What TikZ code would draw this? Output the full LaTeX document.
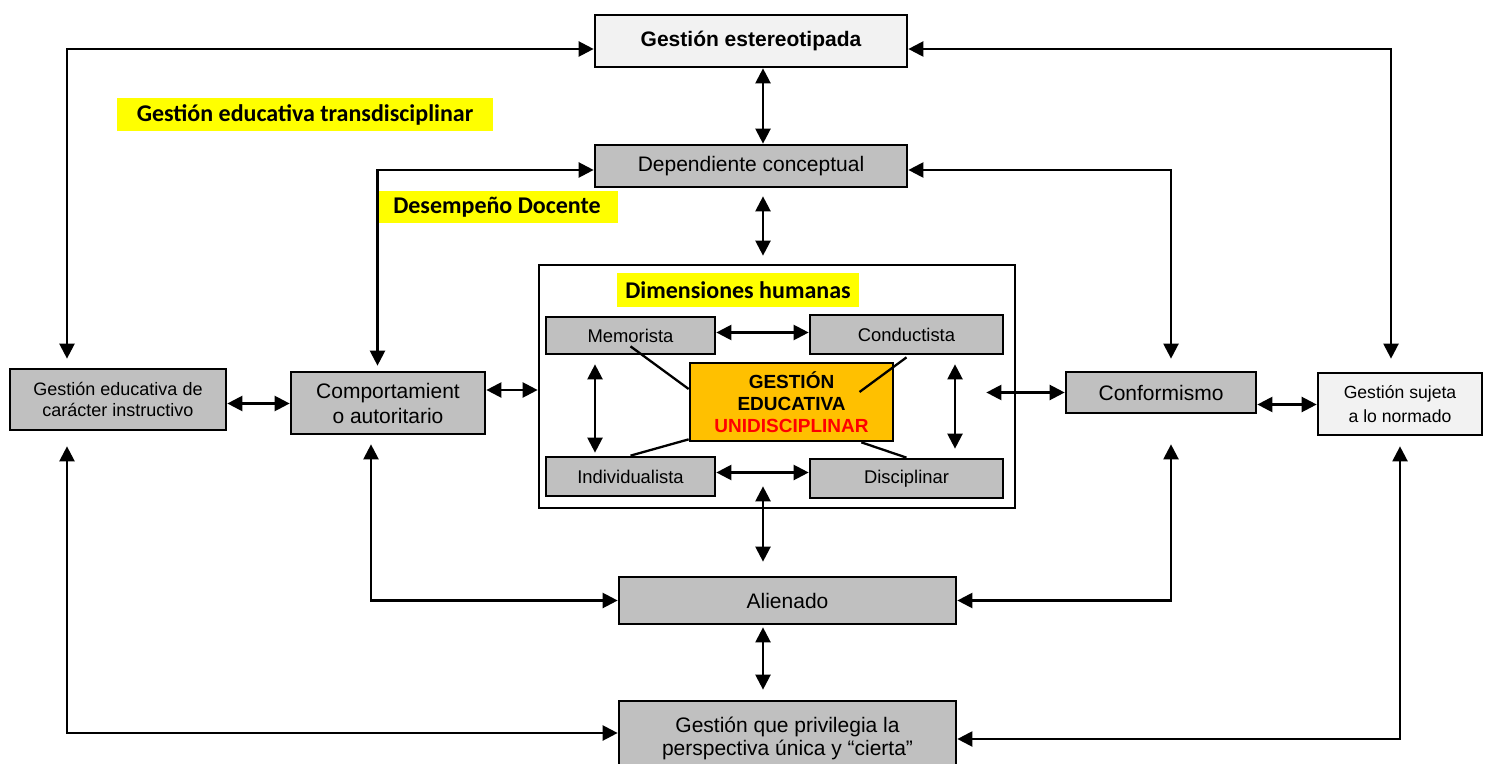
\documentclass[tikz,border=0pt]{standalone}
\usepackage{fontspec}
\setmainfont{Liberation Sans}
\newfontfamily\calibri{Carlito}
\usepackage{tikz}
\usetikzlibrary{arrows.meta,positioning}
\definecolor{grisbox}{HTML}{C0C0C0}
\definecolor{grisclaro}{HTML}{F2F2F2}
\definecolor{naranja}{HTML}{FFC000}
\definecolor{amarillo}{HTML}{FFFF00}
\definecolor{rojo}{HTML}{FF0000}
\tikzset{
  caja/.style={draw,line width=1.35pt,fill=grisbox,align=center,inner sep=0pt,
    font=\fontsize{10.5}{12.5}\selectfont},
  clara/.style={caja,fill=grisclaro},
  chica/.style={caja,font=\fontsize{9.2}{11}\selectfont},
  etiqueta/.style={fill=amarillo,inner sep=0pt,font=\calibri\bfseries\fontsize{12}{14}\selectfont},
  flecha/.style={<->,line width=1.15pt},
  linea/.style={line width=1.15pt},
}

\begin{document}
\begin{tikzpicture}
[x=0.5pt,y=-0.5pt,>={Triangle[length=7.5pt,width=7.5pt]}]
\useasboundingbox (0,0) rectangle (1486,764);
\clip (0,0) rectangle (1486,764);
  % columna central
  \node[clara,minimum width=156pt,minimum height=26pt,font=\bfseries\fontsize{10.5}{12.5}\selectfont] (estereo) at (751,41) {Gestión estereotipada};
  \node[caja,minimum width=156pt,minimum height=21pt] (depend) at (751,166) {Dependiente conceptual};
  \node[caja,minimum width=168.5pt,minimum height=23.5pt] (alien) at (787.5,600.5) {Alienado};
  \node[caja,minimum width=168.5pt,minimum height=37pt,font=\fontsize{10.5}{11.5}\selectfont] (privil) at (787.5,738) {Gestión que privilegia la\\perspectiva única y “cierta”};
%
  \node[etiqueta,minimum width=188pt,minimum height=16.5pt] (transd) at (305,114.5) {Gestión educativa transdisciplinar};
  \node[etiqueta,minimum width=121pt,minimum height=16pt] (desemp) at (497,207) {Desempeño Docente};
%
  % dimensiones humanas
  \node[draw,line width=1.35pt,minimum width=238pt,minimum height=121.5pt,inner sep=0pt] (dim) at (777,386.5) {};
  \node[etiqueta,minimum width=121pt,minimum height=17pt] (dimlab) at (738,290) {Dimensiones humanas};
  \node[chica,minimum width=84.5pt,minimum height=18.5pt] (memo) at (630.5,335.5) {Memorista};
  \node[chica,minimum width=96.5pt,minimum height=19.5pt] (cond) at (906.5,334.5) {Conductista};
  \node[chica,minimum width=84.5pt,minimum height=19.5pt] (indiv) at (630.5,476.5) {Individualista};
  \node[chica,minimum width=96.5pt,minimum height=19.5pt] (disc) at (906.5,478.5) {Disciplinar};
  \node[caja,fill=naranja,minimum width=101.5pt,minimum height=39pt,font=\bfseries\fontsize{9.5}{11}\selectfont] (centro) at (791.5,402) {GESTIÓN\\EDUCATIVA\\\textcolor{rojo}{UNIDISCIPLINAR}};
%
  % fila media
  \node[caja,minimum width=108pt,minimum height=30.5pt,font=\fontsize{9}{10.5}\selectfont] (instr) at (118,399.5) {Gestión educativa de\\carácter instructivo};
  \node[caja,minimum width=97pt,minimum height=31pt,font=\fontsize{10.5}{12.5}\selectfont] (comp) at (388,403) {Comportamient\\o autoritario};
  \node[caja,minimum width=95pt,minimum height=20.5pt] (conf) at (1161,392.5) {Conformismo};
  \node[clara,minimum width=82pt,minimum height=31pt,font=\fontsize{8.8}{12}\selectfont] (norma) at (1400,404) {Gestión sujeta\\a lo normado};
%
  \draw[flecha] ([xshift=6pt]estereo.south) -- ([xshift=6pt]depend.north);
  \draw[flecha] ([xshift=6pt,yshift=-4pt]depend.south) -- ([xshift=-7pt,yshift=4pt]dim.north);
  \draw[flecha] ([xshift=-7pt,yshift=11.5pt]dim.south) -- ([xshift=-12.25pt,yshift=7pt]alien.north);
  \draw[flecha] ([xshift=-12.25pt,yshift=-1pt]alien.south) -- ([xshift=-12.25pt,yshift=5pt]privil.north);
%
  \draw[flecha] ([xshift=-25.5pt,yshift=4.5pt]instr.north) |- ([yshift=-4pt]estereo.west);
  \draw[flecha] ([xshift=-4.5pt,yshift=6.5pt]norma.north) |- ([yshift=-4pt]estereo.east);
  \draw[flecha] ([xshift=-5.25pt,yshift=2.5pt]comp.north) |- ([yshift=-2pt]depend.west);
  \draw[flecha] ([yshift=-2pt]depend.east) -| ([xshift=5pt,yshift=6pt]conf.north);
%
  \draw[flecha] ([xshift=-25.5pt,yshift=-7.5pt]instr.south) |- ([yshift=2.5pt]privil.west);
  \draw[flecha] ([xshift=-8.5pt,yshift=-4.5pt]comp.south) |- (alien.west);
  \draw[flecha] ([xshift=5pt,yshift=-15pt]conf.south) |- (alien.east);
  \draw[flecha] ([yshift=-5pt]norma.south) |- ([yshift=-0.5pt]privil.east);
%
  \draw[flecha] ([yshift=-2pt]instr.east) -- ([yshift=-2pt]instr.east -| comp.west);
  \draw[flecha] ([yshift=6.5pt]comp.east) -- ([yshift=6.5pt]comp.east -| dim.west);
  \draw[flecha] ([xshift=-15pt]dim.east |- conf.west) -- (conf.west);
  \draw[flecha] ([yshift=-6pt]conf.east) -- ([yshift=-6pt]conf.east -| norma.west);
%
  \draw[flecha] ([yshift=1.5pt]memo.east) -- ([yshift=1.5pt]memo.east -| cond.west);
  \draw[flecha] ([yshift=2pt]indiv.east) -- ([yshift=2pt]indiv.east -| disc.west);
  \draw[flecha] ([xshift=-17.75pt,yshift=-4.5pt]memo.south) -- ([xshift=-17.75pt,yshift=1.5pt]indiv.north);
  \draw[flecha] ([xshift=24.25pt,yshift=-4.5pt]cond.south) -- ([xshift=24.25pt,yshift=4.5pt]disc.north);
%
  \draw[linea] ([yshift=4.5pt]memo.south) -- ([yshift=6.5pt]centro.west);
  \draw[linea] ([yshift=-1pt]cond.south) -- ([xshift=34pt,yshift=5pt]centro.center);
  \draw[linea] (indiv.north) -- ([yshift=1.5pt]centro.south west);
  \draw[linea] (disc.north) -- ([xshift=-16.5pt]centro.south east);
\end{tikzpicture}
\end{document}
